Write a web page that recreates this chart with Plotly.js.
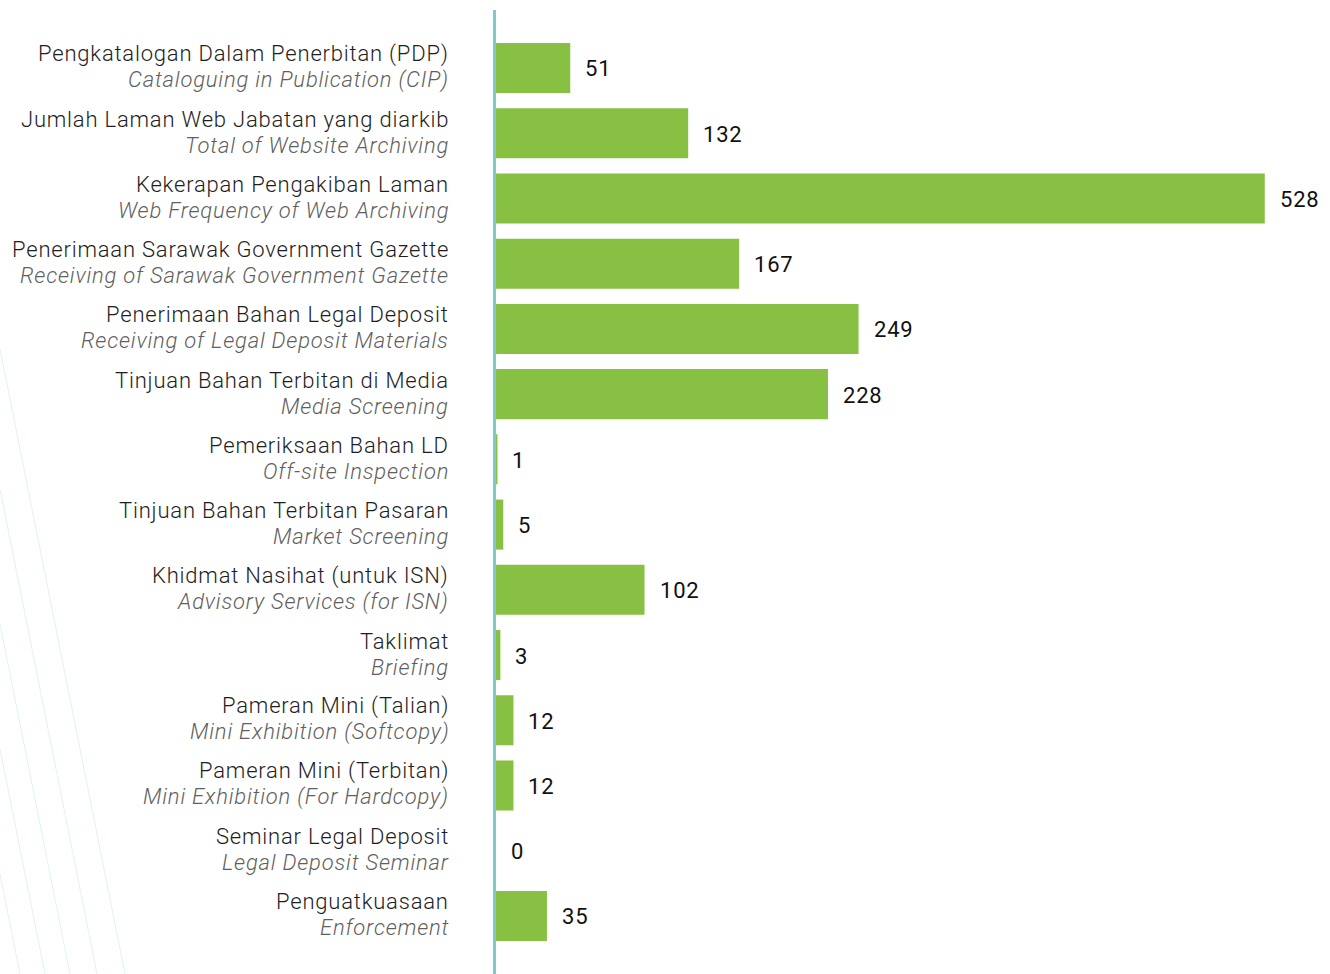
<!DOCTYPE html>
<html>
<head>
<meta charset="utf-8">
<script src="https://cdn.plot.ly/plotly-3.0.1.min.js"></script>
<style>
html,body{margin:0;padding:0;background:#fff;}
#chart{width:1330px;height:974px;}
text.annotation-text{letter-spacing:0.8px;}
</style>
</head>
<body>
<div id="chart"></div>
<script>
const categoriesMalay = [
  "Pengkatalogan Dalam Penerbitan (PDP)",
  "Jumlah Laman Web Jabatan yang diarkib",
  "Kekerapan Pengakiban Laman",
  "Penerimaan Sarawak Government Gazette",
  "Penerimaan Bahan Legal Deposit",
  "Tinjuan Bahan Terbitan di Media",
  "Pemeriksaan Bahan LD",
  "Tinjuan Bahan Terbitan Pasaran",
  "Khidmat Nasihat (untuk ISN)",
  "Taklimat",
  "Pameran Mini (Talian)",
  "Pameran Mini (Terbitan)",
  "Seminar Legal Deposit",
  "Penguatkuasaan"
];
const categoriesEnglish = [
  "Cataloguing in Publication (CIP)",
  "Total of Website Archiving",
  "Web Frequency of Web Archiving",
  "Receiving of Sarawak Government Gazette",
  "Receiving of Legal Deposit Materials",
  "Media Screening",
  "Off-site Inspection",
  "Market Screening",
  "Advisory Services (for ISN)",
  "Briefing",
  "Mini Exhibition (Softcopy)",
  "Mini Exhibition (For Hardcopy)",
  "Legal Deposit Seminar",
  "Enforcement"
];
const values = [51, 132, 528, 167, 249, 228, 1, 5, 102, 3, 12, 12, 0, 35];

const green = "#87c042";

const trace = {
  type: "bar",
  orientation: "h",
  y: categoriesMalay,
  x: values,
  marker: {color: green, line: {width: 0}},
  hoverinfo: "x+y"
};

const annotations = [];
categoriesMalay.forEach((c, i) => {
  annotations.push({
    xref: "paper", yref: "y", x: 0, y: c,
    xanchor: "right", yanchor: "middle", xshift: -45, yshift: 14,
    text: c, showarrow: false,
    font: {family: "Roboto", size: 22, color: "#1e1e1e", weight: 300}
  });
  annotations.push({
    xref: "paper", yref: "y", x: 0, y: c,
    xanchor: "right", yanchor: "middle", xshift: -45, yshift: -12,
    text: categoriesEnglish[i], showarrow: false,
    font: {family: "Roboto", size: 22, color: "#5f5f5f", weight: 300, style: "italic"}
  });
  annotations.push({
    xref: "x", yref: "y", x: values[i], y: c,
    xanchor: "left", yanchor: "middle", xshift: 13, yshift: -1,
    text: String(values[i]), showarrow: false,
    font: {family: "Roboto", size: 22, color: "#111111"}
  });
});

// faint decorative diagonal lines at bottom left
const deco = [20, 45, 70, 97, 125];
const shapes = deco.map(xb => ({
  type: "line", xref: "paper", yref: "paper",
  x0: (0 - 496) / 834, y0: (xb / 0.2) / 964,
  x1: (xb - 496) / 834, y1: 0,
  line: {color: "#dff3f5", width: 1}
}));

const layout = {
  width: 1330, height: 974,
  margin: {l: 496, r: 0, t: 10, b: 0, pad: 0},
  paper_bgcolor: "#ffffff",
  plot_bgcolor: "rgba(0,0,0,0)",
  showlegend: false,
  bargap: 0.233,
  xaxis: {
    range: [0, 572.8], showgrid: false, zeroline: false,
    showticklabels: false, showline: false, ticks: ""
  },
  yaxis: {
    type: "category",
    categoryorder: "array", categoryarray: categoriesMalay,
    range: [13.89, -0.889], autorange: false,
    showticklabels: false, showgrid: false, zeroline: false,
    showline: true, linecolor: "#7ccaca", linewidth: 3, ticks: ""
  },
  annotations: annotations,
  shapes: shapes
};

Plotly.newPlot("chart", [trace], layout, {displayModeBar: false, staticPlot: true});
</script>
</body>
</html>
